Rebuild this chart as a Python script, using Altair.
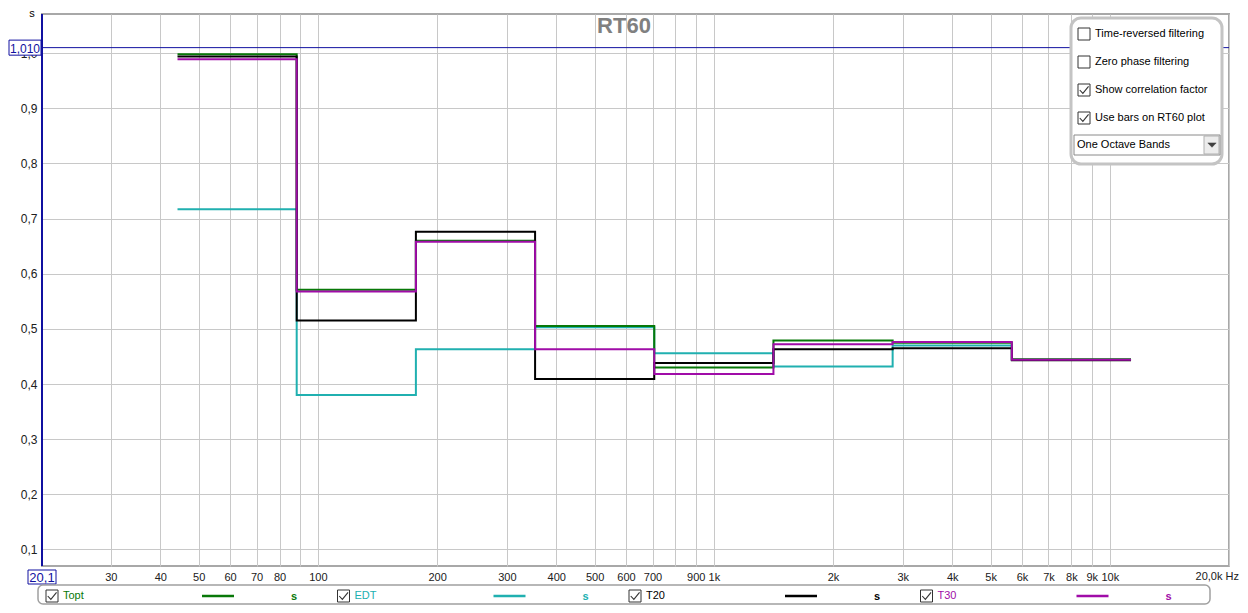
import altair as alt
import pandas as pd

# ---------------- data ----------------
band_edges = [44.2, 88.4, 176.8, 353.6, 707.1, 1414.2, 2828.4, 5656.9, 11313.7]
series_names = ["Topt", "EDT", "T20", "T30"]
topt = [0.998, 0.571, 0.660, 0.505, 0.430, 0.479, 0.475, 0.445]
edt = [0.717, 0.380, 0.463, 0.503, 0.456, 0.432, 0.470, 0.444]
t20 = [0.994, 0.515, 0.676, 0.409, 0.438, 0.463, 0.465, 0.443]
t30 = [0.989, 0.568, 0.658, 0.463, 0.418, 0.472, 0.476, 0.444]
series_colors = ["#087808", "#20b0b0", "#000000", "#a00ca8"]

x_ticks = [30, 40, 50, 60, 70, 80, 90, 100, 200, 300, 400, 500, 600, 700, 800, 900,
           1000, 2000, 3000, 4000, 5000, 6000, 7000, 8000, 9000, 10000, 20000]
x_unlabeled = [90, 800, 20000]
y_ticks = [0.1, 0.2, 0.3, 0.4, 0.5, 0.6, 0.7, 0.8, 0.9, 1.0]
x_domain = [20.1, 20000]
y_domain = [0.070, 1.071]
cursor_x = 20.1
cursor_y = 1.010
cursor_x_label = "20,1"
cursor_y_label = "1,010"
end_label = "20,0k Hz"
unit_label = "s"
title_text = "RT60"
options = ["Time-reversed filtering", "Zero phase filtering",
           "Show correlation factor", "Use bars on RT60 plot"]
options_checked = [False, False, True, True]
band_choice = "One Octave Bands"

FONT = "Liberation Sans"
W, H = 1187, 552

# ---------------- encodings ----------------
values_by_series = [topt, edt, t20, t30]
rows = []
for name, vals in zip(series_names, values_by_series):
    for i, f in enumerate(band_edges):
        rows.append({"series": name, "freq": f, "rt": vals[min(i, len(vals) - 1)]})
df = pd.DataFrame(rows)

unl = ",".join(str(v) for v in x_unlabeled)
x_enc = alt.X(
    "freq:Q",
    scale=alt.Scale(type="log", domain=x_domain, nice=False),
    axis=alt.Axis(
        values=x_ticks, title=None, grid=True, ticks=False, domain=False,
        labelOverlap=False, labelFlush=False, labelPadding=5,
        labelExpr=f"indexof([{unl}], datum.value) >= 0 ? '' : "
                  "(datum.value >= 1000 ? (datum.value/1000) + 'k' : '' + datum.value)",
    ),
)
y_enc = alt.Y(
    "rt:Q",
    scale=alt.Scale(domain=y_domain, nice=False, zero=False),
    axis=alt.Axis(
        values=y_ticks, title=None, grid=True, ticks=False, domain=False,
        labelOverlap=False, labelFlush=False, labelPadding=5, labelFontSize=12,
        labelExpr="replace(format(datum.value, '.1f'), '.', ',')",
    ),
)

one = pd.DataFrame({"k": [0]})


def ui_text(txt, x, y, color="#000000", size=11, align="left", weight="normal"):
    return alt.Chart(one).mark_text(
        text=txt, align=align, baseline="middle", fontSize=size, font=FONT,
        color=color, fontWeight=weight,
    ).encode(x=alt.value(x), y=alt.value(y))


def ui_rect(x, x2, y, y2, fill="#ffffff", stroke="#404040", sw=1.0, radius=0):
    return alt.Chart(one).mark_rect(
        fill=fill, stroke=stroke, strokeWidth=sw, cornerRadius=radius,
    ).encode(x=alt.value(x), x2=alt.value(x2), y=alt.value(y), y2=alt.value(y2))


def ui_rule(x, x2, y, color, sw):
    return alt.Chart(one).mark_rule(color=color, strokeWidth=sw).encode(
        x=alt.value(x), x2=alt.value(x2), y=alt.value(y))


def ui_symbol(shape, x, y, size, stroke="#303030", sw=1.2, fill=None):
    kw = dict(shape=shape, size=size, stroke=stroke, strokeWidth=sw, opacity=1)
    if fill is None:
        kw["filled"] = False
    else:
        kw["filled"] = True
        kw["fill"] = fill
    return alt.Chart(one).mark_point(**kw).encode(x=alt.value(x), y=alt.value(y))


CHECK = "M-0.75,0 L-0.2,0.6 L0.8,-0.65"


def checkbox(cx, cy, checked):
    layers = [ui_rect(cx - 6, cx + 6, cy - 6, cy + 6, fill="#ffffff", stroke="#333333", sw=1)]
    if checked:
        layers.append(ui_symbol(CHECK, cx, cy, 130, stroke="#333333", sw=1.1))
    return layers


layers = []

# cursor lines (behind data)
layers.append(alt.Chart(pd.DataFrame({"rt": [cursor_y]})).mark_rule(
    color="#1010a0", strokeWidth=1).encode(y=y_enc))
layers.append(alt.Chart(pd.DataFrame({"freq": [cursor_x]})).mark_rule(
    color="#1010a0", strokeWidth=2).encode(x=x_enc))

# data step lines; draw order EDT, Topt, T20, T30
order = ["EDT", "Topt", "T20", "T30"]
for name in order:
    color = series_colors[series_names.index(name)]
    layers.append(
        alt.Chart(df[df.series == name]).mark_line(
            interpolate="step-after", strokeWidth=2, color=color,
        ).encode(x=x_enc, y=y_enc)
    )

# title and unit
layers.append(ui_text(title_text, 582, 12, color="#808080", size=22, align="center", weight="bold"))
layers.append(ui_text(unit_label, -10, 0, color="#000000", size=11, align="center"))

# cursor labels
cy_df = pd.DataFrame({"rt": [cursor_y], "label": [cursor_y_label]})
layers.append(alt.Chart(cy_df).mark_point(
    shape="M-1,-0.47H1V0.47H-1Z", size=32 * 32, filled=True, fill="#ffffff",
    stroke="#1010a0", strokeWidth=1, opacity=1).encode(x=alt.value(-17), y=y_enc))
layers.append(alt.Chart(cy_df).mark_text(
    font=FONT, fontSize=12, color="#1010a0", align="center", baseline="middle", dy=1).encode(
    x=alt.value(-17), y=y_enc, text="label:N"))

cx_df = pd.DataFrame({"freq": [cursor_x], "label": [cursor_x_label]})
layers.append(alt.Chart(cx_df).mark_point(
    shape="M-1,-0.5H1V0.5H-1Z", size=28 * 28, filled=True, fill="#ffffff",
    stroke="#1010a0", strokeWidth=1, opacity=1).encode(x=x_enc, y=alt.value(563)))
layers.append(alt.Chart(cx_df).mark_text(
    font=FONT, fontSize=13, color="#1010a0", align="center", baseline="middle", dy=1).encode(
    x=x_enc, y=alt.value(563), text="label:N"))

end_df = pd.DataFrame({"freq": [x_domain[1]]})
layers.append(alt.Chart(end_df).mark_text(
    text=end_label, font=FONT, fontSize=11, color="#202020", align="right",
    baseline="middle", dx=10).encode(x=x_enc, y=alt.value(563)))

# options panel (top right)
layers.append(ui_rect(1029, 1180, 4, 150, fill="#ffffff", stroke="#c4c4c4", sw=3, radius=10))
for i, (opt, chk) in enumerate(zip(options, options_checked)):
    cy = 20 + 28 * i
    layers += checkbox(1042, cy, chk)
    layers.append(ui_text(opt, 1053, cy, size=11))
layers.append(ui_rect(1032, 1178, 121, 141, fill="#ffffff", stroke="#8a8a8a", sw=1))
layers.append(ui_text(band_choice, 1035, 131, size=11))
layers.append(ui_rect(1162, 1177, 122, 140, fill="#ececec", stroke="#b0b0b0", sw=1))
layers.append(ui_symbol("M-1,-0.5L1,-0.5L0,0.55Z", 1170, 131, 70, stroke="#404040", sw=0.5, fill="#404040"))

# bottom legend strip
layers.append(ui_rect(-4, 1168, 571, 590, fill="#ffffff", stroke="#a0a0a0", sw=1.5, radius=5))
period = 291.5
ly = 582
for i, name in enumerate(series_names):
    off = i * period
    color = series_colors[i]
    layers += checkbox(10 + off, ly, True)
    layers.append(ui_text(name, 21 + off, ly, color=color, size=11))
    layers.append(ui_rule(160 + off, 192 + off, ly, color, 2.5))
    layers.append(ui_text("s", 252 + off, ly + 1, color=color, size=11, align="center", weight="bold"))

chart = alt.layer(*layers).properties(
    width=W, height=H,
    padding={"left": 34, "top": 6, "right": 11, "bottom": 39},
    autosize=alt.AutoSizeParams(type="none"),
    background="#ffffff",
).configure_view(
    stroke="#a8a8a8", strokeWidth=2,
).configure_axis(
    gridColor="#c8c8c8", gridWidth=1, gridOpacity=1,
    labelFont=FONT, labelFontSize=11, labelColor="#202020",
)

chart.save("out.html", embed_options={"renderer": "svg", "actions": False})
